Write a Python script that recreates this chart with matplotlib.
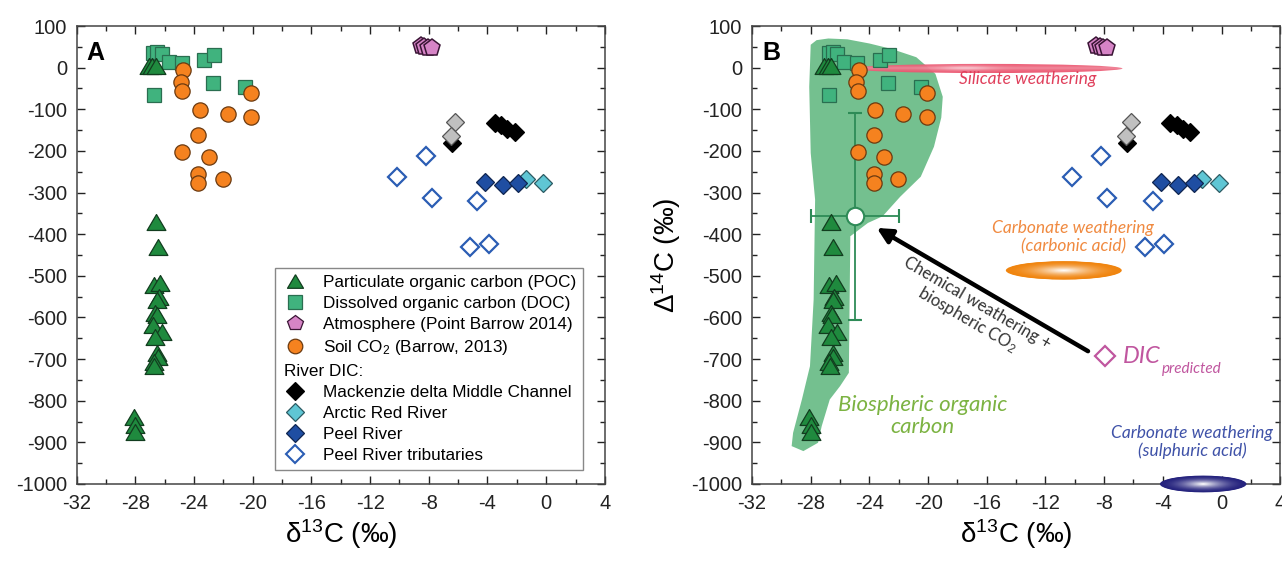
import numpy as np
import matplotlib
matplotlib.use('Agg')
import matplotlib.pyplot as plt
from matplotlib.patches import Ellipse, Polygon
from matplotlib.lines import Line2D
import matplotlib.transforms as mtransforms
from matplotlib.colors import to_rgb

plt.rcParams['font.family'] = ['Liberation Sans', 'DejaVu Sans']
plt.rcParams['mathtext.fontset'] = 'custom'
plt.rcParams['mathtext.rm'] = 'Liberation Sans'
plt.rcParams['mathtext.it'] = 'Liberation Sans:italic'
plt.rcParams['axes.unicode_minus'] = False

# ---------------- data ----------------
poc_x = [-27.1, -26.85, -26.6, -26.6, -26.45, -26.75, -26.3, -26.4, -26.5, -26.65, -26.55,
         -26.8, -26.2, -26.65, -26.5, -26.45, -26.75, -26.7, -28.1, -28.0, -28.0]
poc_y = [5, 5, 5, -370, -430, -522, -518, -550, -558, -590, -594,
         -618, -634, -646, -686, -694, -706, -716, -838, -858, -875]

doc_x = [-26.77, -26.5, -26.2, -25.7, -24.84, -23.3, -22.64, -22.73, -20.5, -26.73]
doc_y = [34, 38, 33, 14, 10, 18, 30, -38, -47, -66]

atm_x = [-8.55, -8.3, -8.05, -7.8]
atm_y = [52, 49, 47, 46]

soil_x = [-24.73, -24.9, -24.8, -23.6, -21.7, -20.1, -20.1, -23.7, -24.8, -23.0, -23.7, -23.7, -22.05]
soil_y = [-6, -34, -55, -102, -112, -60, -119, -162, -202, -215, -255, -278, -267]

grey_x = [-6.2, -6.5]
grey_y = [-130, -165]

mack_x = [-6.45, -3.5, -3.05, -2.65, -2.15]
mack_y = [-182, -133, -138, -147, -155]

arctic_x = [-1.35, -0.2]
arctic_y = [-268, -277]

peel_x = [-4.15, -2.95, -1.9]
peel_y = [-274, -283, -278]

trib_x = [-10.2, -8.2, -7.8, -4.7, -5.2, -3.9]
trib_y = [-262, -212, -312, -320, -431, -424]

# panel B extras
bio_poly_x = [-28.0, -27.6, -26.8, -25.5, -24.0, -22.5, -20.8, -19.5, -19.0, -19.1, -19.6, -20.5,
              -21.9, -23.1, -24.1, -25.3, -25.4, -26.0, -26.7, -27.25, -27.5, -28.5, -29.3,
              -29.2, -28.6, -28.05, -27.8, -27.7, -28.0, -28.1]
bio_poly_y = [55, 66, 70, 68, 58, 45, 25, -15, -70, -120, -190, -262,
              -310, -357, -373, -405, -733, -765, -797, -861, -901, -921, -909,
              -877, -797, -717, -557, -317, -205, -46]

mix_x = [-25.0]
mix_y = [-357]
mix_xerr = [3.0]
mix_yerr = [249]

dicpred_x = [-7.94]
dicpred_y = [-693]

xticks = list(range(-32, 5, 4))
yticks = list(range(-1000, 101, 100))

# ---------------- styles ----------------
c_poc = '#1f8a3e'
c_doc = '#40b37e'
c_atm = '#d684c6'
c_soil = '#f5821f'
c_grey = '#c0c0c0'
c_arctic = '#5fc6d4'
c_peel = '#1f4ea2'
c_trib = '#2b5db4'

tri = [(0, 0.85), (-1, -0.85), (1, -0.85), (0, 0.85)]

fig = plt.figure(figsize=(12.82, 5.69), dpi=100)
axA = fig.add_axes([0.0598, 0.1494, 0.412, 0.8049])
axB = fig.add_axes([0.5866, 0.1494, 0.412, 0.8049])


def draw_data(ax):
    ax.plot(doc_x, doc_y, ls='none', marker='s', ms=9.6, mfc=c_doc, mec='#2a6e50', mew=0.9, zorder=4)
    ax.plot(poc_x, poc_y, ls='none', marker=tri, ms=13.5, mfc=c_poc, mec='#123d1f', mew=0.9, zorder=5)
    ax.plot(soil_x, soil_y, ls='none', marker='o', ms=11, mfc=c_soil, mec='#6b3a10', mew=0.9, zorder=6)
    ax.plot(atm_x, atm_y, ls='none', marker='p', ms=12.5, mfc=c_atm, mec='#3a1535', mew=1.1, zorder=5)
    ax.plot(mack_x, mack_y, ls='none', marker='D', ms=9.5, mfc='black', mec='black', mew=0.9, zorder=5)
    ax.plot(grey_x, grey_y, ls='none', marker='D', ms=9.5, mfc=c_grey, mec='#555555', mew=0.9, zorder=6)
    ax.plot(arctic_x, arctic_y, ls='none', marker='D', ms=9.5, mfc=c_arctic, mec='#2c5a62', mew=0.9, zorder=5)
    ax.plot(peel_x, peel_y, ls='none', marker='D', ms=9.5, mfc=c_peel, mec='#0f2550', mew=0.9, zorder=6)
    ax.plot(trib_x, trib_y, ls='none', marker='D', ms=9.5, mfc='white', mec=c_trib, mew=1.6, zorder=5)


def style_axes(ax):
    ax.set_xlim(-32, 4)
    ax.set_ylim(-1000, 100)
    ax.set_xticks(xticks)
    ax.set_yticks(yticks)
    ax.set_xticks(np.arange(-32, 5, 2), minor=True)
    ax.set_yticks(np.arange(-1000, 101, 50), minor=True)
    ax.tick_params(which='both', direction='in', top=True, right=True, labelsize=14.5,
                   colors='#222222', pad=7)
    ax.tick_params(which='major', length=6, width=1)
    ax.tick_params(which='minor', length=3.5, width=1)
    for s in ax.spines.values():
        s.set_color('#444444')
        s.set_linewidth(1.1)
    ax.set_xlabel('δ$^{13}$C (‰)', fontsize=20, labelpad=3)


for ax in (axA, axB):
    draw_data(ax)
    style_axes(ax)

axA.text(0.018, 0.968, 'A', transform=axA.transAxes, fontsize=18, fontweight='bold', va='top', ha='left')
axB.text(0.02, 0.968, 'B', transform=axB.transAxes, fontsize=18, fontweight='bold', va='top', ha='left')
axB.set_ylabel('Δ$^{14}$C (‰)', fontsize=20, labelpad=6)

# ---------------- legend (panel A) ----------------
handles = [
    Line2D([], [], ls='none', marker=tri, ms=11.5, mfc=c_poc, mec='#123d1f', mew=0.9),
    Line2D([], [], ls='none', marker='s', ms=9.5, mfc=c_doc, mec='#2a6e50', mew=0.9),
    Line2D([], [], ls='none', marker='p', ms=11.5, mfc=c_atm, mec='#3a1535', mew=0.9),
    Line2D([], [], ls='none', marker='o', ms=10.5, mfc=c_soil, mec='#6b3a10', mew=0.9),
    Line2D([], [], ls='none', marker='none'),
    Line2D([], [], ls='none', marker='D', ms=9, mfc='black', mec='black', mew=0.9),
    Line2D([], [], ls='none', marker='D', ms=9, mfc=c_arctic, mec='#2c5a62', mew=0.9),
    Line2D([], [], ls='none', marker='D', ms=9, mfc=c_peel, mec='#0f2550', mew=0.9),
    Line2D([], [], ls='none', marker='D', ms=9, mfc='white', mec=c_trib, mew=1.5),
]
labels = ['Particulate organic carbon (POC)', 'Dissolved organic carbon (DOC)',
          'Atmosphere (Point Barrow 2014)', 'Soil CO$_2$ (Barrow, 2013)', 'River DIC:',
          'Mackenzie delta Middle Channel', 'Arctic Red River', 'Peel River',
          'Peel River tributaries']
leg_fs = 12.3
leg = axA.legend(handles, labels, loc='lower right', bbox_to_anchor=(0.959, 0.0306),
                 borderaxespad=0, fontsize=leg_fs, frameon=True, fancybox=False,
                 edgecolor='#888888', framealpha=1, handlelength=1.5, handletextpad=0.9,
                 labelspacing=0.36, borderpad=0.4)
leg.get_frame().set_linewidth(1.0)
hdr = leg.get_texts()[4]
fs_px = leg_fs * 100 / 72
hdr.set_transform(hdr.get_transform() + mtransforms.Affine2D().translate(-(1.5 + 0.9) * fs_px + 2, 0))

# ---------------- panel B annotations ----------------
axB.add_patch(Polygon(np.column_stack([bio_poly_x, bio_poly_y]), closed=True,
                      facecolor='#6cbd89', edgecolor='none', alpha=0.95, zorder=1))

axB.errorbar(mix_x, mix_y, xerr=mix_xerr, yerr=mix_yerr, fmt='o', ms=12.5, mfc='white',
             mec='#2e8b57', mew=1.5, ecolor='#2e8b57', elinewidth=1.3, capsize=5, capthick=1.3, zorder=3)

axB.plot(dicpred_x, dicpred_y, ls='none', marker='D', ms=10, mfc='white', mec='#c0569f', mew=1.6, zorder=5)

axB.annotate('', xy=(-23.5, -385), xytext=(-9.1, -681),
             arrowprops=dict(arrowstyle='-|>,head_length=0.9,head_width=0.45', lw=3.2,
                             color='black', shrinkA=0, shrinkB=0), zorder=4)

afont = 'Lato'
axB.text(-17.0, -588, 'Chemical weathering +\nbiospheric CO$_2$', rotation=-30.3,
         rotation_mode='anchor', ha='center', va='center', fontsize=12, color='#333333',
         family=afont, linespacing=1.1)

dtxt = axB.text(-6.7, -694, 'DIC', fontsize=17, color='#c0569f', family=afont,
                style='italic', ha='left', va='center', zorder=5)
axB.annotate('predicted', xy=(1, 0), xycoords=dtxt, xytext=(1, -1.5), textcoords='offset points',
             fontsize=11, color='#c0569f', family=afont, style='italic', ha='left', va='center')

# silicate weathering gradient band
sil = Ellipse((-16.0, -2), 18.5, 22, transform=axB.transData)
nx, ny = 300, 60
gx = np.linspace(0, 1, nx)
gy = np.linspace(-1, 1, ny)
GX, GY = np.meshgrid(gx, gy)
rgba = np.zeros((ny, nx, 4))
red = np.array(to_rgb('#ea4f6a'))
pink = np.array(to_rgb('#f9c6cf'))
light = np.exp(-((GX - 0.42) / 0.1) ** 2) * np.exp(-(GY / 0.5) ** 2) * 0.55
w = np.clip(0.95 - 0.4 * (1 - np.abs(GY)) ** 2, 0, 1)
w = np.clip(w - light, 0, 1)
rgba[..., :3] = w[..., None] * red + (1 - w[..., None]) * pink
rgba[..., 3] = 0.95
im = axB.imshow(rgba, extent=(-25.25, -6.75, -13, 9), origin='lower', aspect='auto', zorder=2,
                interpolation='bilinear')
im.set_clip_path(sil)
axB.set_xlim(-32, 4)
axB.set_ylim(-1000, 100)

axB.text(-13.2, -28, 'Silicate weathering', fontsize=12.5, color='#e0405c', family=afont,
         style='italic', ha='center', va='center', zorder=6)


def grad_ellipse(ax, cx, cy, w, h, edge, n=40):
    ec = np.array(to_rgb(edge))
    for i in range(n):
        f = 1 - i / n
        t = (i / (n - 1)) ** 1.8
        col = (1 - t) * ec + t * np.array([1, 1, 1])
        ax.add_patch(Ellipse((cx, cy), w * f, h * f, facecolor=col, edgecolor='none',
                             clip_on=False, zorder=7))


grad_ellipse(axB, -10.75, -487, 7.9, 44, '#f0850f')
axB.text(-10.1, -408, 'Carbonate weathering\n(carbonic acid)', fontsize=12.5, color='#f08a40',
         family=afont, style='italic', ha='center', va='center', linespacing=1.15)

grad_ellipse(axB, -1.25, -1000, 5.9, 40, '#25237e')
axB.text(-2.0, -899, 'Carbonate weathering\n(sulphuric acid)', fontsize=12.5, color='#3f52a8',
         family=afont, style='italic', ha='center', va='center', linespacing=1.15)

axB.text(-20.4, -836, 'Biospheric organic\ncarbon', fontsize=16, color='#7cb342',
         family=afont, style='italic', ha='center', va='center', linespacing=1.1)

fig.savefig('out.png', dpi=100)
